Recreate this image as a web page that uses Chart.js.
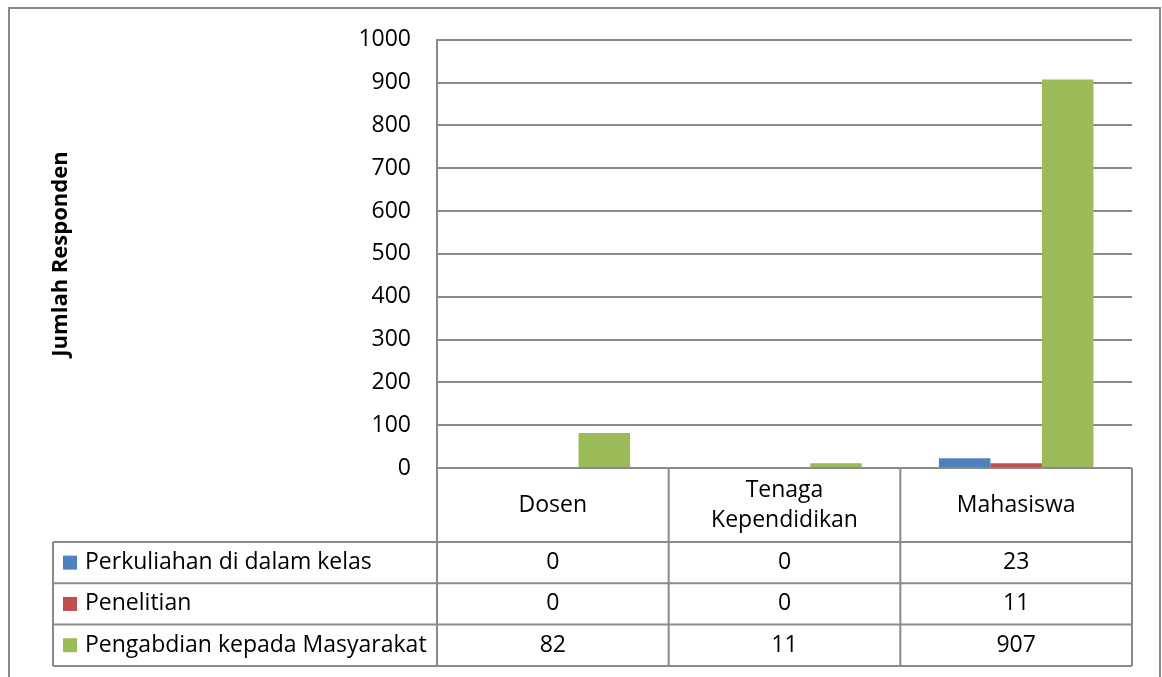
<!DOCTYPE html>
<html><head>
<meta charset="utf-8">
<title>Jumlah Responden</title>
<script src="https://cdn.jsdelivr.net/npm/chart.js@4"></script>
<style>
body { margin: 0; background: #fff; }
#wrap { width: 1162px; height: 677px; }
</style></head><body>
<div id="wrap"><canvas id="chart" width="1162" height="677"></canvas></div>
<script>
// categories (multi-line label as array) and series values
const categories = ['Dosen', ['Tenaga', 'Kependidikan'], 'Mahasiswa'];
const seriesNames = ['Perkuliahan di dalam kelas', 'Penelitian', 'Pengabdian kepada Masyarakat'];
const perkuliahan = [0, 0, 23];
const penelitian = [0, 0, 11];
const pengabdian = [82, 11, 907];
const seriesColors = ['#4F81BD', '#C0504D', '#9BBB59'];
const yMin = 0, yMax = 1000, yStep = 100;

const FONT = '"Open Sans", sans-serif';
const LINE = '#8a8a8a';
const seriesValues = [perkuliahan, penelitian, pengabdian];

// data table under the plot: header row + one row per series
const HEADER_H = 74; // 468 -> 542
const ROW_H = 41.3;
const TABLE_LEFT = 53;

const dataTable = {
  id: 'dataTable',
  afterDraw(chart) {
    const { ctx, chartArea } = chart;
    const x = chart.scales.x;
    const top = chartArea.bottom;
    const headBottom = top + HEADER_H;
    const tableBottom = headBottom + ROW_H * seriesNames.length;

    // column edges from the category scale
    const edges = [chartArea.left];
    for (let i = 0; i < categories.length - 1; i++) {
      edges.push((x.getPixelForValue(i) + x.getPixelForValue(i + 1)) / 2);
    }
    edges.push(chartArea.right);

    ctx.save();
    ctx.strokeStyle = LINE;
    ctx.lineWidth = 2;

    // outer chart border
    ctx.strokeRect(9, 8, 1151, 700);

    // horizontal table lines
    ctx.beginPath();
    ctx.moveTo(chartArea.left, top); ctx.lineTo(chartArea.right, top);
    for (let r = 0; r <= seriesNames.length; r++) {
      const y = headBottom + r * ROW_H;
      ctx.moveTo(TABLE_LEFT, y); ctx.lineTo(chartArea.right, y);
    }
    // vertical table lines
    for (const e of edges) { ctx.moveTo(e, top); ctx.lineTo(e, tableBottom); }
    ctx.moveTo(TABLE_LEFT, headBottom); ctx.lineTo(TABLE_LEFT, tableBottom);
    ctx.stroke();

    // header labels
    ctx.fillStyle = '#000';
    ctx.font = '23px ' + FONT;
    ctx.textAlign = 'center';
    ctx.textBaseline = 'middle';
    categories.forEach((c, i) => {
      const cx = (edges[i] + edges[i + 1]) / 2;
      const lines = Array.isArray(c) ? c : [c];
      const lh = 30;
      const y0 = (top + headBottom) / 2 - (lines.length - 1) * lh / 2;
      lines.forEach((t, j) => ctx.fillText(t, cx, y0 + j * lh));
    });

    // rows: legend key + values
    seriesNames.forEach((name, r) => {
      const cy = headBottom + r * ROW_H + ROW_H / 2;
      ctx.fillStyle = seriesColors[r];
      ctx.fillRect(63, cy - 7, 14, 14);
      ctx.fillStyle = '#000';
      ctx.textAlign = 'left';
      ctx.fillText(name, 85, cy);
      ctx.textAlign = 'center';
      seriesValues[r].forEach((v, i) => {
        ctx.fillText(String(v), (edges[i] + edges[i + 1]) / 2, cy);
      });
    });

    // y axis title
    ctx.translate(61, 254);
    ctx.rotate(-Math.PI / 2);
    ctx.font = 'bold 22px ' + FONT;
    ctx.fillText('Jumlah Responden', 0, 0);
    ctx.restore();
  }
};

new Chart(document.getElementById('chart'), {
  type: 'bar',
  data: {
    labels: categories,
    datasets: seriesNames.map((name, i) => ({
      label: name,
      data: seriesValues[i],
      backgroundColor: seriesColors[i],
      borderWidth: 0,
      categoryPercentage: 0.667,
      barPercentage: 1,
    })),
  },
  options: {
    responsive: false,
    animation: false,
    devicePixelRatio: 1,
    layout: { padding: { left: 0, top: 36, right: 30, bottom: 0 } },
    plugins: { legend: { display: false }, tooltip: { enabled: false } },
    scales: {
      x: {
        ticks: { display: false },
        grid: { display: false },
        border: { display: false },
        afterFit: s => { s.height = 209; },
      },
      y: {
        min: yMin, max: yMax,
        ticks: {
          stepSize: yStep, padding: 26, color: '#000',
          font: { family: FONT, size: 23 },
          callback: v => String(v),
        },
        grid: { color: LINE, lineWidth: 2, drawTicks: false },
        border: { display: true, color: LINE, width: 2 },
        afterFit: s => { s.width = 437; },
      },
    },
  },
  plugins: [dataTable],
});
</script>
</body></html>
